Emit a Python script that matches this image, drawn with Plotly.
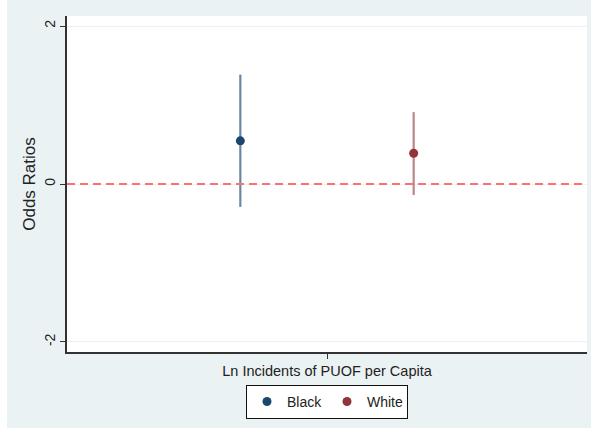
import plotly.graph_objects as go

groups = ["Black", "White"]
positions = [1/3, 2/3]
estimates = [0.546, 0.39]
ci_low = [-0.29, -0.14]
ci_high = [1.385, 0.91]
marker_colors = ["#1a476f", "#90353b"]
ci_colors = ["rgba(26,71,111,0.65)", "rgba(144,53,59,0.6)"]
y_ticks = [-2, 0, 2]
x_tick_label = "Ln Incidents of PUOF per Capita"
y_title = "Odds Ratios"

BG = "#eaf2f3"
FONT = "Liberation Sans, Arial, sans-serif"

fig = go.Figure()
for g, x, e, lo, hi, mc, cc in zip(groups, positions, estimates, ci_low, ci_high,
                                   marker_colors, ci_colors):
    fig.add_trace(go.Scatter(
        x=[x], y=[e], mode="markers", name=g,
        marker=dict(color=mc, size=9),
        error_y=dict(type="data", symmetric=False, array=[hi - e],
                     arrayminus=[e - lo], color=cc, thickness=2.2, width=0),
    ))

fig.add_shape(type="line", xref="paper", x0=0, x1=1, yref="y", y0=0, y1=0,
              line=dict(color="#ff7070", width=2, dash="8px,5px"), layer="above")

# white strips at the outer border
fig.add_shape(type="rect", xref="paper", yref="paper",
              x0=-0.2, x1=(7 - 67) / 520, y0=-0.3, y1=1.1,
              fillcolor="white", line=dict(width=0), layer="above")
fig.add_shape(type="rect", xref="paper", yref="paper",
              x0=-0.2, x1=1.1, y0=-0.3, y1=-(428 - 352) / 336,
              fillcolor="white", line=dict(width=0), layer="above")

fig.update_layout(
    width=591, height=432,
    margin=dict(l=67, r=4, t=16, b=80, autoexpand=False),
    paper_bgcolor=BG, plot_bgcolor="white",
    font=dict(family=FONT, size=14, color="#222"),
    showlegend=True,
    legend=dict(orientation="h", x=0.5, xanchor="center", y=-0.098, yanchor="top",
                bordercolor="#111", borderwidth=1, bgcolor="white",
                font=dict(size=14), itemwidth=30, entrywidth=35,
                tracegroupgap=0),
    xaxis=dict(range=[0, 1], tickmode="array", tickvals=[0.5],
               ticktext=[x_tick_label], ticks="outside", ticklen=5,
               tickcolor="#333", tickfont=dict(size=14.5),
               showgrid=False, zeroline=False,
               showline=True, linecolor="#333", linewidth=1.5,
               automargin=False, fixedrange=True),
    yaxis=dict(range=[-2.127, 2.127], tickmode="array", tickvals=y_ticks,
               ticktext=[str(v) for v in y_ticks], tickangle=-90,
               ticks="outside", ticklen=5, tickcolor="#333",
               showgrid=True, gridcolor=BG, gridwidth=1, zeroline=False,
               showline=True, linecolor="#333", linewidth=1.5,
               title=dict(text=y_title, standoff=2), automargin=False,
               fixedrange=True),
)

fig.write_html("out.html", config={"displayModeBar": False},
               post_script="document.body.style.margin='0';")
